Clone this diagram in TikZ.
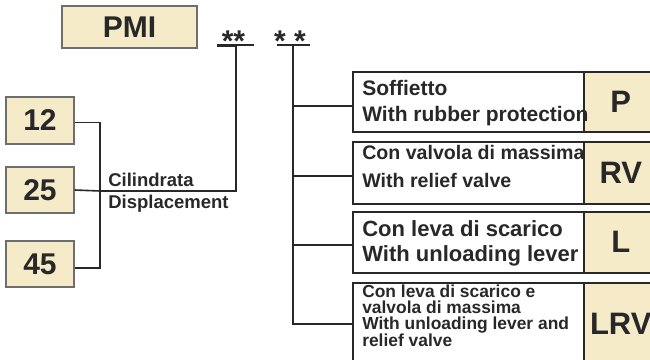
\documentclass[tikz,border=0pt]{standalone}
\usepackage{fontspec}
\setmainfont{Liberation Sans}
\usepackage{tikz}
\usetikzlibrary{positioning}
\definecolor{tanfill}{RGB}{246,235,200}
\definecolor{inkgray}{RGB}{40,40,40}
\definecolor{rimgray}{RGB}{110,110,110}

\begin{document}
\begin{tikzpicture}[x=1pt,y=-1pt,semithick,
    codebox/.style={draw=rimgray,line width=1.3pt,fill=tanfill,text=inkgray,inner sep=0pt,font=\bfseries\fontsize{30}{30}\selectfont},
    optbox/.style={draw=inkgray,line width=1.5pt,fill=white,inner sep=0pt,minimum width=231pt,anchor=north west},
    optcode/.style={draw=inkgray,line width=1.5pt,fill=tanfill,text=inkgray,inner sep=0pt,minimum width=74pt,anchor=north west,font=\bfseries\fontsize{31}{31}\selectfont},
    opttext/.style={anchor=west,inner sep=0pt,align=left,text=inkgray},
    conn/.style={draw=inkgray,line width=1.6pt},
    stars/.style={anchor=base,inner sep=0pt,text=inkgray,font=\bfseries\fontsize{30}{30}\selectfont}]
    \useasboundingbox (0,0) rectangle (650,359);
    \clip (0,0) rectangle (650,359);

    % model code
    \node[codebox,minimum width=135pt,minimum height=42pt] (pmi) at (129.5,27) {PMI};
    \node[stars] (s1) at (233.5,51) {**};
    \node[stars] (s2) at (290,51) {* *};
    \coordinate (d1) at (236,45);
    \coordinate (d2) at (293,45);
    \coordinate (d2e) at (293,323);
    \draw[draw=inkgray,line width=3pt] (217,45) -- (d1);
    \draw[draw=inkgray,line width=1.4pt] (d1) -- (254,45);
    \draw[draw=inkgray,line width=2pt] (277,45) -- (310,45);

    % displacement
    \node[codebox,minimum width=68pt,minimum height=47pt] (b12) at (40,120.5) {12};
    \node[codebox,minimum width=68pt,minimum height=46pt] (b25) at (40,190) {25};
    \node[codebox,minimum width=68pt,minimum height=46pt] (b45) at (40,264) {45};
    \coordinate (jn) at (100,191);
    \node[opttext,font=\bfseries\fontsize{18.5}{22}\selectfont] (cil) at (108,192.6) {Cilindrata\\Displacement};

    \draw[conn] ([yshift=-2pt]b12.east) -| (jn) |- ([yshift=-4pt]b45.east);
    \draw[conn] (b25.east) -- (jn) -| (d1);

    % options
    \node[optbox,minimum height=60pt] (o1) at (352,71) {};
    \node[optcode,minimum height=60pt] (c1) at (583,71) {P};
    \node[optbox,minimum height=62pt] (o2) at (352,141) {};
    \node[optcode,minimum height=62pt] (c2) at (583,141) {RV};
    \node[optbox,minimum height=61pt] (o3) at (352,211) {};
    \node[optcode,minimum height=61pt] (c3) at (583,211) {L};
    \node[optbox,minimum height=82pt] (o4) at (352,282) {};
    \node[optcode,minimum height=82pt] (c4) at (583,282) {LRV};

    \node[opttext,font=\bfseries\fontsize{21}{26}\selectfont] (t1) at (362,103) {Soffietto\\With rubber protection};
    \node[opttext,font=\bfseries\fontsize{19.6}{28}\selectfont] (t2) at (362,166.7) {Con valvola di massima\\With relief valve};
    \node[opttext,font=\bfseries\fontsize{22}{25}\selectfont] (t3) at (362,243) {Con leva di scarico\\With unloading lever};
    \node[opttext,font=\bfseries\fontsize{17.4}{16}\selectfont] (t4) at (362,316) {Con leva di scarico e\\valvola di massima\\With unloading lever and\\relief valve};

    \draw[conn] (d2) -- (d2e);
    \draw[conn] ([yshift=-4pt]o1.west) -| (d2);
    \draw[conn] ([yshift=-3pt]o2.west) -| (d2);
    \draw[conn] ([yshift=-2.5pt]o3.west) -| (d2);
    \draw[conn] (o4.west) -| (d2e);
\end{tikzpicture}
\end{document}
